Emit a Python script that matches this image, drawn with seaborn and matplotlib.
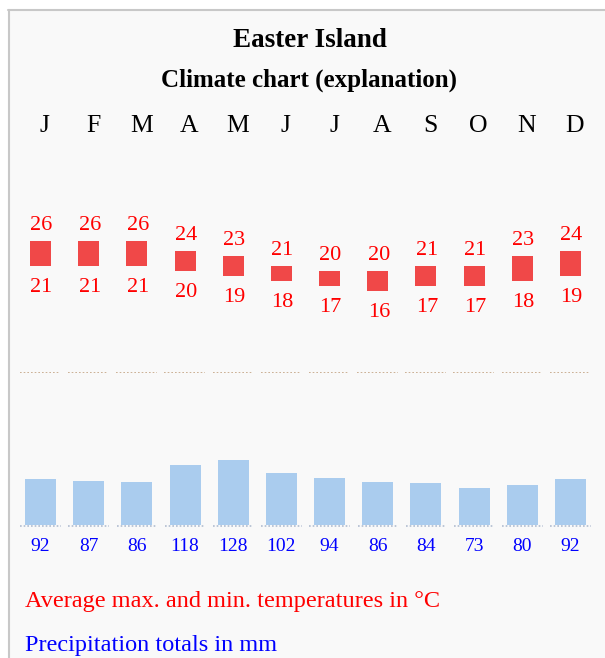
import matplotlib
matplotlib.use("Agg")
import matplotlib.pyplot as plt
import matplotlib.patches as patches
from matplotlib.lines import Line2D
import seaborn as sns
import pandas as pd

# Climate data for Easter Island
months = ["J", "F", "M", "A", "M", "J", "J", "A", "S", "O", "N", "D"]
temp_max = [26, 26, 26, 24, 23, 21, 20, 20, 21, 21, 23, 24]
temp_min = [21, 21, 21, 20, 19, 18, 17, 16, 17, 17, 18, 19]
precip = [92, 87, 86, 118, 128, 102, 94, 86, 84, 73, 80, 92]

title = "Easter Island"
subtitle = "Climate chart (explanation)"
legend_temp = "Average max. and min. temperatures in °C"
legend_precip = "Precipitation totals in mm"

sns.set_style("white")
plt.rcParams["font.family"] = ["Liberation Serif", "DejaVu Serif"]

W, H = 605, 658
fig = plt.figure(figsize=(W / 100, H / 100), dpi=100)
fig.patch.set_facecolor("white")


def fx(x):
    return x / W


def fy(y):
    return 1 - y / H


# panel background and border
fig.patches.append(patches.Rectangle((fx(9), 0), 1 - fx(9), fy(10), transform=fig.transFigure,
                                     facecolor="#f9f9f9", edgecolor="none", zorder=-5))
fig.lines.append(Line2D([fx(9), fx(9)], [0, fy(10)], transform=fig.transFigure,
                        color="#c8c8c8", lw=1.5, zorder=-4))
fig.lines.append(Line2D([fx(8), 1], [fy(10), fy(10)], transform=fig.transFigure,
                        color="#c8c8c8", lw=1.5, zorder=-4))

X0, X1 = 16.4, 594.6
px_per_deg = 5.07
px_per_mm = 0.505
t_zero, p_zero = 372.5, 525
t_top, p_top, p_bottom = 42, 250, -10

ax_t = fig.add_axes([fx(X0), fy(t_zero), fx(X1) - fx(X0), t_top * px_per_deg / H])
ax_p = fig.add_axes([fx(X0), fy(p_zero - p_bottom * px_per_mm), fx(X1) - fx(X0),
                     (p_top - p_bottom) * px_per_mm / H])

df = pd.DataFrame({"month": range(12), "label": months, "tmax": temp_max,
                   "tmin": temp_min, "precip": precip})

# precipitation bars
sns.barplot(data=df, x="month", y="precip", ax=ax_p, color="#aaccee", width=0.645,
            saturation=1, linewidth=0, edgecolor="none", zorder=3)
ax_p.hlines([-1.5] * 12, df["month"] - 0.42, df["month"] + 0.42, colors="#b0bcd0",
            linestyles=(0, (1, 1.2)), lw=1.2, zorder=2)
for i, v in enumerate(precip):
    ax_p.annotate(str(v), xy=(i, 0), xytext=(0, -26), textcoords="offset pixels",
                  ha="center", va="baseline", color="blue", fontsize=14)

# temperature range bars
ax_t.bar(df["month"], df["tmax"] - df["tmin"], bottom=df["tmin"], width=0.437,
         color="#f04848", linewidth=0, zorder=3)
ax_t.hlines([0] * 12, df["month"] - 0.43, df["month"] + 0.41, colors="#c4a484",
            linestyles=(0, (1, 1.2)), lw=1.2, zorder=2)
for i, (hi, lo) in enumerate(zip(temp_max, temp_min)):
    ax_t.annotate(str(hi), xy=(i, hi), xytext=(1, 11), textcoords="offset pixels",
                  ha="center", va="baseline", color="red", fontsize=16)
    ax_t.annotate(str(lo), xy=(i, lo), xytext=(1, -26), textcoords="offset pixels",
                  ha="center", va="baseline", color="red", fontsize=16)

# month initials
for i, m in enumerate(months):
    ax_t.annotate(m, xy=(i, fy(132)), xycoords=("data", "figure fraction"),
                  xytext=(4.5, 0), textcoords="offset pixels",
                  ha="center", va="baseline", color="black", fontsize=18.5)

ax_t.set_ylim(0, t_top)
ax_p.set_ylim(p_bottom, p_top)
for ax in (ax_t, ax_p):
    ax.set_xlim(-0.5, 11.5)
    ax.set_facecolor("none")
    ax.set_axis_off()

fig.text(fx(310), fy(47), title, ha="center", va="baseline", fontsize=19.5,
         fontweight="bold", color="black")
fig.text(fx(309), fy(87), subtitle, ha="center", va="baseline", fontsize=18,
         fontweight="bold", color="black")
fig.text(fx(25), fy(607), legend_temp, ha="left", va="baseline", fontsize=17.5, color="red")
fig.text(fx(25), fy(651), legend_precip, ha="left", va="baseline", fontsize=17.5, color="blue")

fig.savefig("out.png", dpi=100)
